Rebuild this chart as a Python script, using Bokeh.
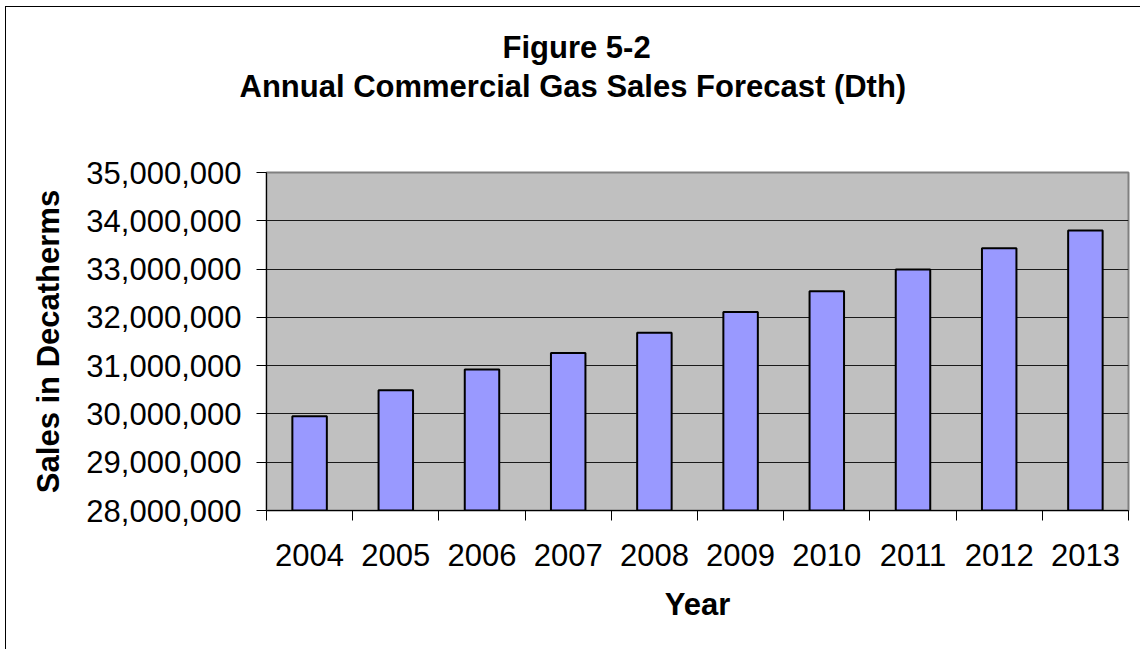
from bokeh.plotting import figure
from bokeh.models import (Range1d, FixedTicker, NumeralTickFormatter, Title,
                          ColumnDataSource)
from bokeh.embed import file_html
from bokeh.resources import INLINE

# ---- data ----
years = ["2004", "2005", "2006", "2007", "2008", "2009", "2010", "2011", "2012", "2013"]
sales = [29950000, 30490000, 30920000, 31260000, 31680000,
         32110000, 32540000, 32990000, 33430000, 33800000]
y_ticks = [28000000, 29000000, 30000000, 31000000, 32000000, 33000000, 34000000, 35000000]
title_line1 = "Figure 5-2"
title_line2 = "Annual Commercial Gas Sales Forecast (Dth)"
x_title = "Year"
y_title = "Sales in Decatherms"

FONT = "Liberation Sans"
FS = "31px"

centers = [i + 0.5 for i in range(len(years))]
bounds = [float(i) for i in range(len(years) + 1)]

src = ColumnDataSource(dict(x=centers, top=sales, year=years))

p = figure(width=1135, height=643, output_backend="svg", toolbar_location=None,
           x_range=Range1d(0, len(years)), y_range=Range1d(y_ticks[0], y_ticks[-1]),
           min_border_left=260, min_border_right=13, min_border_top=165,
           min_border_bottom=140)
p.margin = (7, 0, 0, 6)
# outer chart border (only its left and top edges fall inside the picture)
p.styles = {"box-shadow": "-1px -1px 0 0 #000000"}

p.background_fill_color = "#C0C0C0"
p.border_fill_color = "white"
p.outline_line_color = "#808080"
p.outline_line_width = 2

p.vbar(x="x", top="top", bottom=y_ticks[0], width=0.4, source=src,
       fill_color="#9999FF", line_color="black", line_width=2)

# grid
p.xgrid.visible = False
p.ygrid.ticker = FixedTicker(ticks=y_ticks)
p.ygrid.grid_line_color = "#1a1a1a"
p.ygrid.grid_line_width = 1

# y axis
ya = p.yaxis[0]
ya.ticker = FixedTicker(ticks=y_ticks)
ya.formatter = NumeralTickFormatter(format="0,0")
ya.major_tick_out = 10
ya.major_tick_in = 0
ya.minor_tick_out = 0
ya.minor_tick_in = 0
ya.major_tick_line_color = "black"
ya.axis_line_color = "black"
ya.major_label_text_font = FONT
ya.major_label_text_font_size = FS
ya.major_label_text_color = "black"
ya.major_label_standoff = 15
ya.axis_label = y_title
ya.axis_label_text_font = FONT
ya.axis_label_text_font_size = FS
ya.axis_label_text_font_style = "bold"
ya.axis_label_text_color = "black"
ya.axis_label_standoff = 17

# x axis
xa = p.xaxis[0]
xa.ticker = FixedTicker(ticks=centers, minor_ticks=bounds)
xa.major_label_overrides = {c: y for c, y in zip(centers, years)}
xa.major_tick_out = 0
xa.major_tick_in = 0
xa.minor_tick_out = 10
xa.minor_tick_in = 0
xa.minor_tick_line_color = "black"
xa.axis_line_color = "black"
xa.major_label_text_font = FONT
xa.major_label_text_font_size = FS
xa.major_label_text_color = "black"
xa.major_label_standoff = 23
xa.axis_label = x_title
xa.axis_label_text_font = FONT
xa.axis_label_text_font_size = FS
xa.axis_label_text_font_style = "bold"
xa.axis_label_text_color = "black"
xa.axis_label_standoff = 18

# titles: spacer next to frame, then second line, then first line
p.add_layout(Title(text=" ", text_font_size="1px", standoff=65), "above")
p.add_layout(Title(text=title_line2, align="left", offset=-27, standoff=2,
                   text_font=FONT, text_font_size=FS, text_font_style="bold",
                   text_color="black"), "above")
p.add_layout(Title(text=title_line1, align="left", offset=236, standoff=2,
                   text_font=FONT, text_font_size=FS, text_font_style="bold",
                   text_color="black"), "above")

open("out.html", "w").write(file_html(p, INLINE))
